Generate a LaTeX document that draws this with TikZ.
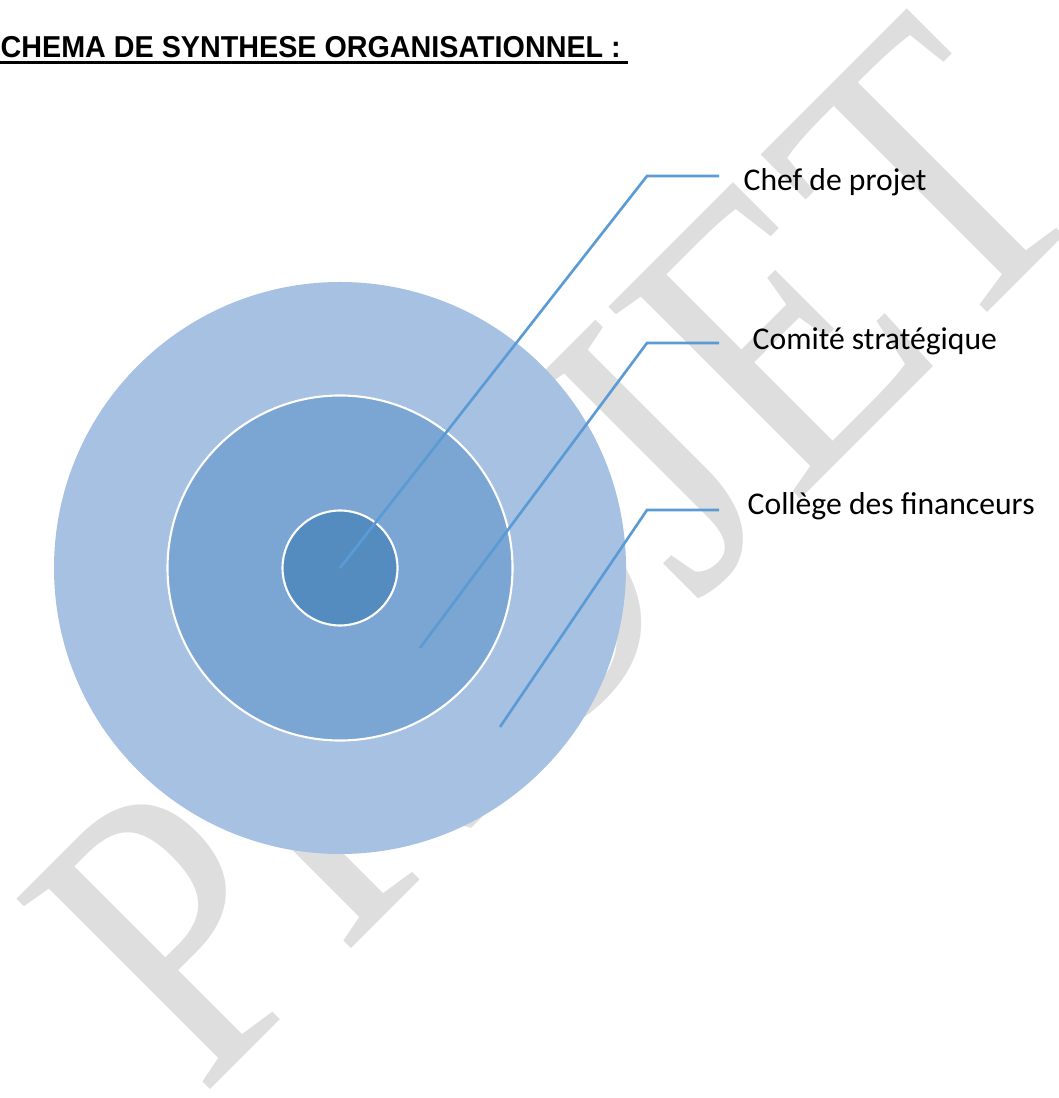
\documentclass[tikz,border=0pt]{standalone}
\usepackage{fontspec}
\setmainfont{Liberation Serif}
\newfontfamily\titrefont{Liberation Sans}
\newfontfamily\etiqfont{Carlito}

\definecolor{bleuclair}{HTML}{A7C1E3}
\definecolor{bleumoyen}{HTML}{7BA5D2}
\definecolor{bleufonce}{HTML}{548CC0}
\definecolor{trait}{HTML}{5B9BD5}
\definecolor{filigrane}{HTML}{DEDEDE}

\begin{document}
\begin{tikzpicture}[
    etiquette/.style={anchor=base west, inner sep=0pt, font=\etiqfont\fontsize{9pt}{11pt}\selectfont},
    liaison/.style={trait, line width=0.75pt},
    cercle/.style={circle, inner sep=0pt, draw=white, line width=0.6pt}
  ]
  % Cadre de la page
  \useasboundingbox (0,0) rectangle (10.58,-10.98);

  % Filigrane en fond
  \node[rotate=45, anchor=base west, inner sep=0pt, text=filigrane,
        font=\fontsize{118pt}{118pt}\selectfont] (marque) at (2.01,-10.99) {\scalebox{0.865}[1]{PROJET}};

  % Titre souligne
  \node[anchor=base west, inner sep=0pt,
        font=\titrefont\bfseries\fontsize{8.6pt}{10pt}\selectfont] (titre) at (0,-0.575)
        {\scalebox{0.95}[1]{CHEMA DE SYNTHESE ORGANISATIONNEL :}};
  \draw[line width=0.85pt] ([yshift=-0.5mm]titre.base west) -- ([xshift=0.7mm,yshift=-0.5mm]titre.base east);

  % Cercles concentriques
  \node[cercle, fill=bleuclair, draw=none, minimum size=5.72cm] (college) at (3.40,-5.68) {};
  \node[cercle, fill=bleumoyen, minimum size=3.45cm] (comite) at (college.center) {};
  \node[cercle, fill=bleufonce, minimum size=1.15cm] (chef) at (college.center) {};

  % Points d'attache et coudes
  \coordinate (pChef) at (chef.center);
  \coordinate (pComite) at (4.20,-6.48);
  \coordinate (pCollege) at (5.00,-7.27);
  \coordinate (kChef) at (6.47,-1.76);
  \coordinate (kComite) at (6.47,-3.43);
  \coordinate (kCollege) at (6.47,-5.10);
  \coordinate (fChef) at (7.19,-1.76);
  \coordinate (fComite) at (7.19,-3.43);
  \coordinate (fCollege) at (7.19,-5.10);

  % Etiquettes
  \node[etiquette] (lChef) at (7.43,-1.91) {Chef de projet};
  \node[etiquette] (lComite) at (7.52,-3.50) {Comité stratégique};
  \node[etiquette] (lCollege) at (7.47,-5.15) {Collège des financeurs};

  % Liaisons
  \draw[liaison] (pChef) -- (kChef) -- (fChef);
  \draw[liaison] (pComite) -- (kComite) -- (fComite);
  \draw[liaison] (pCollege) -- (kCollege) -- (fCollege);
\end{tikzpicture}
\end{document}
